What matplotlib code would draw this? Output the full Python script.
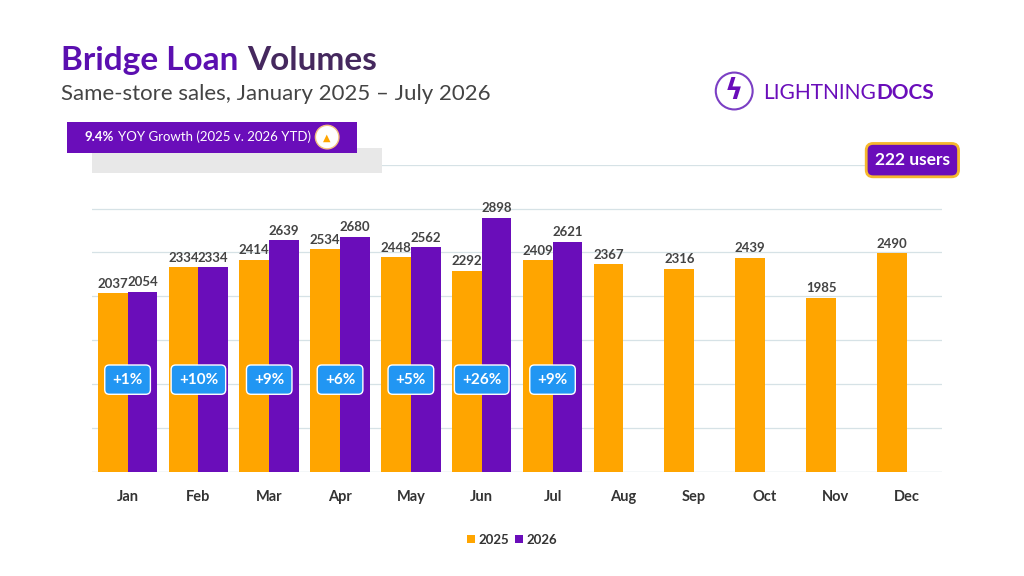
import matplotlib
matplotlib.use("Agg")
import matplotlib.pyplot as plt
from matplotlib.patches import FancyBboxPatch, Ellipse
import numpy as np

months = ["Jan","Feb","Mar","Apr","May","Jun","Jul","Aug","Sep","Oct","Nov","Dec"]
v2025 = [2037,2334,2414,2534,2448,2292,2409,2367,2316,2439,1985,2490]
v2026 = [2054,2334,2639,2680,2562,2898,2621]
growth = ["+1%","+10%","+9%","+6%","+5%","+26%","+9%"]

ORANGE = "#FFA500"
PURPLE = "#6A0DBA"
BLUE = "#2196F3"
plt.rcParams['font.family'] = ['Lato', 'DejaVu Sans']

fig = plt.figure(figsize=(10.24,5.76), dpi=100)
fig.patch.set_facecolor("white")
ax = fig.add_axes([0.090,0.181,0.830,0.533])
x = np.arange(len(months))
w = 0.42
ax.bar(x - w/2, v2025, w, color=ORANGE, label="2025", zorder=3)
ax.bar(x[:len(v2026)] + w/2, v2026, w, color=PURPLE, label="2026", zorder=3)
for i, v in enumerate(v2025):
    ax.text(i - w/2, v + 40, str(v), ha="center", va="bottom", fontsize=9.5, fontweight="bold", color="#444444", zorder=4)
for i, v in enumerate(v2026):
    ax.text(i + w/2, v + 40, str(v), ha="center", va="bottom", fontsize=9.5, fontweight="bold", color="#444444", zorder=4)
for i, g in enumerate(growth):
    ax.text(i, 1050, g, ha="center", va="center", fontsize=11, fontweight="bold", color="white", zorder=6,
            bbox=dict(boxstyle="round,pad=0.5,rounding_size=0.3", fc=BLUE, ec="white", lw=1))
ax.set_xlim(-0.5, 11.5)
ax.set_ylim(0, 3500)
ax.set_yticks(np.arange(0, 3501, 500))
ax.yaxis.grid(True, color="#D6E2E6", lw=0.9, zorder=0)
ax.tick_params(axis="y", left=False, labelleft=False)
ax.tick_params(axis="x", bottom=False, pad=10)
ax.set_xticks(x)
ax.set_xticklabels(months, fontsize=10.5, fontweight="bold", color="#333333")
for s in ax.spines.values():
    s.set_visible(False)
ax.axhline(0, color="#D6E2E6", lw=0.9)

leg = fig.legend(loc="center", bbox_to_anchor=(0.5, 0.063), ncol=2, frameon=False,
                 handlelength=0.6, handleheight=0.6, handletextpad=0.3, columnspacing=0.4,
                 prop=dict(size=9.5, weight="bold"))
for t in leg.get_texts():
    t.set_color("#333333")

r = fig.canvas.get_renderer()
def after(t, gap=0.0):
    bb = t.get_window_extent(renderer=r)
    return bb.x1 / fig.bbox.width + gap

# Titles
t1 = fig.text(0.060, 0.895, "Bridge Loan", fontsize=24, fontweight="bold", color="#5B0FB0", va="center")
fig.text(after(t1, 0.008), 0.895, "Volumes", fontsize=24, fontweight="bold", color="#45285E", va="center")
fig.text(0.060, 0.837, "Same-store sales, January 2025 – July 2026", fontsize=16, color="#444444", va="center")

# YOY banner
fig.patches.append(FancyBboxPatch((0.090, 0.700), 0.283, 0.043, boxstyle="square,pad=0",
                                  transform=fig.transFigure, fc="#E8E8E8", ec="none", zorder=1))
fig.patches.append(FancyBboxPatch((0.065, 0.734), 0.284, 0.055, boxstyle="square,pad=0",
                                  transform=fig.transFigure, fc="#6A0DBA", ec="none", zorder=2))
b1 = fig.text(0.083, 0.762, "9.4%", fontsize=9.5, fontweight="bold", color="white", va="center", zorder=3)
fig.text(after(b1, 0.004), 0.762, "YOY Growth (2025 v. 2026 YTD)", fontsize=9.5, color="white", va="center", zorder=3)
fig.patches.append(Ellipse((0.3195, 0.762), 0.023, 0.023*1024/576, transform=fig.transFigure, fc="white", ec="#F5C080", lw=1, zorder=3))
fig.text(0.3195, 0.760, "▲", fontsize=7, color=ORANGE, ha="center", va="center", zorder=4, family="DejaVu Sans")

# Logo
fig.patches.append(Ellipse((0.717, 0.842), 0.036, 0.036*1024/576, transform=fig.transFigure, fc="none", ec="#7B3FC4", lw=1.5, zorder=3))
fig.text(0.717, 0.842, "ϟ", fontsize=20, color="#6A0DBA", ha="center", va="center", fontweight="bold", family="DejaVu Sans")
l1 = fig.text(0.745, 0.838, "LIGHTNING", fontsize=15, color="#6A0DBA", va="center")
fig.text(after(l1, 0.001), 0.838, "DOCS", fontsize=15, color="#6A0DBA", va="center", fontweight="bold")

# users badge
fig.text(0.891, 0.722, "222 users", fontsize=12.5, fontweight="bold", color="white", ha="center", va="center",
         bbox=dict(boxstyle="round,pad=0.5,rounding_size=0.4", fc="#6A0DBA", ec="#F5B82E", lw=2))

fig.savefig("out.png", dpi=100)
